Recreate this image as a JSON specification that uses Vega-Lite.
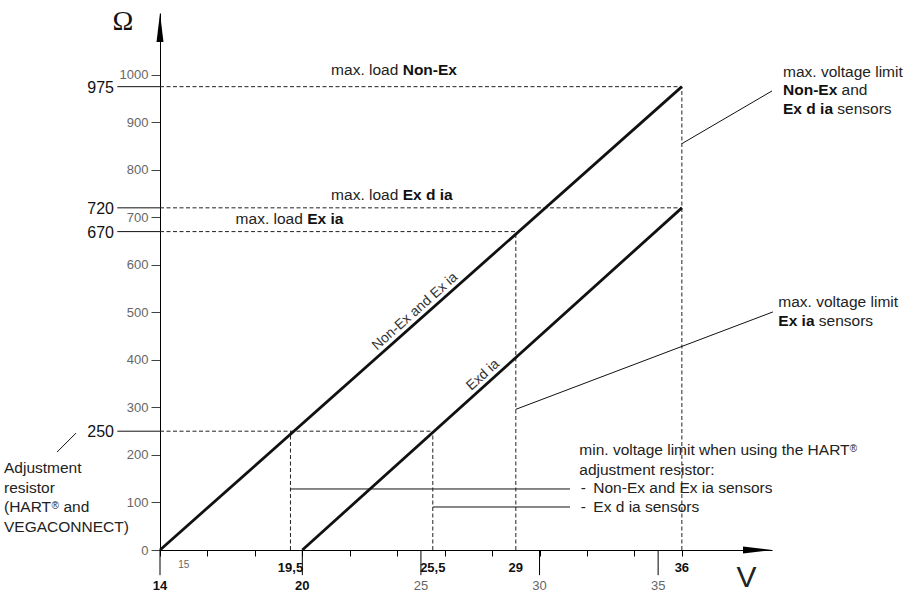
{
  "$schema": "https://vega.github.io/schema/vega-lite/v6.json",
  "width": 612,
  "height": 537,
  "autosize": {"type": "none"},
  "padding": {"left": 160, "top": 13, "right": 143, "bottom": 42},
  "background": "white",
  "config": {"view": {"stroke": null}, "font": "Liberation Sans", "axis": {"grid": false}},
  "datasets": {
    "lines": [
      {"s": "Non-Ex and Ex ia", "x": 14, "y": 0},
      {"s": "Non-Ex and Ex ia", "x": 36, "y": 975},
      {"s": "Exd ia", "x": 20, "y": 0},
      {"s": "Exd ia", "x": 36, "y": 720}
    ],
    "dashed": [
      {"x": 14, "x2": 36, "y": 975, "y2": 975},
      {"x": 14, "x2": 36, "y": 720, "y2": 720},
      {"x": 14, "x2": 29, "y": 670, "y2": 670},
      {"x": 14, "x2": 25.5, "y": 250, "y2": 250},
      {"x": 19.5, "x2": 19.5, "y": 0, "y2": 250},
      {"x": 25.5, "x2": 25.5, "y": 0, "y2": 250},
      {"x": 29, "x2": 29, "y": 0, "y2": 670},
      {"x": 36, "x2": 36, "y": 0, "y2": 975}
    ],
    "marks": [{"v": 975}, {"v": 720}, {"v": 670}, {"v": 250}],
    "leaders": [
      {"x": 36, "y": 855, "x2": 39.8, "y2": 966},
      {"x": 29, "y": 296, "x2": 39.84, "y2": 501},
      {"x": 19.5, "y": 128.4, "x2": 31.285, "y2": 128.4},
      {"x": 25.5, "y": 90.5, "x2": 31.285, "y2": 90.5},
      {"x": 9.658, "y": 206, "x2": 10.459, "y2": 246}
    ],
    "longticks": [{"x": 14}, {"x": 20}, {"x": 25}, {"x": 30}, {"x": 35}],
    "xlabNearBold": [{"x": 19.5, "t": "19,5"}, {"x": 25.5, "t": "25,5"}, {"x": 29, "t": "29"}, {"x": 36, "t": "36"}],
    "xlabFarBold": [{"x": 14, "t": "14"}, {"x": 20, "t": "20"}],
    "xlabFarGray": [{"x": 25, "t": "25"}, {"x": 30, "t": "30"}, {"x": 35, "t": "35"}],
    "xlabSmall": [{"x": 15, "t": "15"}],
    "textLeft": [
      {"x": 40.265, "y": 994.7, "t": "max. voltage limit"},
      {"x": 42.735, "y": 956.4, "t": "and"},
      {"x": 42.554, "y": 917.9, "t": "sensors"},
      {"x": 40.067, "y": 511, "t": "max. voltage limit"},
      {"x": 41.774, "y": 471.6, "t": "sensors"},
      {"x": 31.677, "y": 200, "t": "min. voltage limit when using the HART"},
      {"x": 31.677, "y": 157.9, "t": "adjustment resistor:"},
      {"x": 31.736, "y": 119.4, "t": "-"},
      {"x": 32.267, "y": 119.4, "t": "Non-Ex and Ex ia sensors"},
      {"x": 31.736, "y": 80.6, "t": "-"},
      {"x": 32.267, "y": 80.6, "t": "Ex d ia sensors"},
      {"x": 7.423, "y": 162.7, "t": "Adjustment"},
      {"x": 7.423, "y": 120, "t": "resistor"},
      {"x": 7.423, "y": 79, "t": "(HART"},
      {"x": 9.932, "y": 79, "t": "and"},
      {"x": 7.423, "y": 37.9, "t": "VEGACONNECT)"}
    ],
    "textBold": [
      {"x": 40.265, "y": 956.4, "t": "Non-Ex"},
      {"x": 40.265, "y": 917.9, "t": "Ex d ia"},
      {"x": 40.067, "y": 471.6, "t": "Ex ia"},
      {"x": 24.232, "y": 1000, "t": "Non-Ex"},
      {"x": 24.232, "y": 737, "t": "Ex d ia"},
      {"x": 20.206, "y": 686, "t": "Ex ia"}
    ],
    "textRight": [
      {"x": 24.046, "y": 1000, "t": "max. load"},
      {"x": 24.046, "y": 737, "t": "max. load"},
      {"x": 20.02, "y": 686, "t": "max. load"}
    ],
    "sup": [
      {"x": 43.081, "y": 206.3, "t": "®"},
      {"x": 9.426, "y": 85.3, "t": "®"}
    ],
    "rot1": [{"x": 25.003, "y": 487.6, "t": "Non-Ex and Ex ia"}],
    "rot2": [{"x": 27.87, "y": 354, "t": "Exd ia"}],
    "omega": [{"x": 12.44, "y": 1094.7, "t": "Ω"}],
    "vunit": [{"x": 38.72, "y": -78, "t": "V"}],
    "yarrow": [{"x": 14, "y": 1130}],
    "xarrow": [{"x": 39.8, "y": 0}]
  },
  "layer": [
    {
      "data": {"name": "dashed"},
      "mark": {"type": "rule", "strokeDash": [4, 2.5], "strokeWidth": 1, "color": "#222"},
      "encoding": {
        "x": {
          "field": "x", "type": "quantitative", "title": null,
          "scale": {"domain": [14, 39.8], "nice": false, "zero": false},
          "axis": {
            "title": null,
            "values": [14, 15, 16, 17, 18, 19, 20, 21, 22, 23, 24, 25, 26, 27, 28, 29, 30, 31, 32, 33, 34, 35, 36],
            "labels": false,
            "tickSize": 6,
            "tickColor": "#000",
            "domainColor": "#000"
          }
        },
        "x2": {"field": "x2"},
        "y": {
          "field": "y", "type": "quantitative", "title": null,
          "scale": {"domain": [0, 1130], "nice": false, "zero": false},
          "axis": {
            "title": null,
            "values": [0, 100, 200, 300, 400, 500, 600, 700, 800, 900, 1000],
            "format": "d",
            "tickSize": 9,
            "tickColor": "#444",
            "domainColor": "#000",
            "labelColor": "#666",
            "labelFontSize": 13,
            "labelPadding": 3,
            "labelFlush": false,
            "labelOverlap": false
          }
        },
        "y2": {"field": "y2"}
      }
    },
    {
      "data": {"name": "marks"},
      "mark": {"type": "rule", "strokeWidth": 1, "color": "#111"},
      "encoding": {
        "x": {"datum": 12.2, "type": "quantitative", "title": null},
        "x2": {"datum": 14},
        "y": {"field": "v", "type": "quantitative", "title": null}
      }
    },
    {
      "data": {"name": "marks"},
      "mark": {"type": "text", "align": "right", "baseline": "middle", "dx": -46, "dy": 1, "fontSize": 16, "color": "#111"},
      "encoding": {
        "x": {"datum": 14, "type": "quantitative", "title": null},
        "y": {"field": "v", "type": "quantitative", "title": null},
        "text": {"field": "v", "type": "quantitative"}
      }
    },
    {
      "data": {"name": "longticks"},
      "mark": {"type": "rule", "strokeWidth": 1, "color": "#000"},
      "encoding": {
        "x": {"field": "x", "type": "quantitative", "title": null},
        "y": {"datum": 0, "type": "quantitative", "title": null},
        "y2": {"datum": -53}
      }
    },
    {
      "data": {"name": "xlabNearBold"},
      "mark": {"type": "text", "align": "center", "baseline": "alphabetic", "dy": 21.5, "fontSize": 13, "fontWeight": "bold", "color": "#111"},
      "encoding": {
        "x": {"field": "x", "type": "quantitative", "title": null},
        "y": {"datum": 0, "type": "quantitative", "title": null},
        "text": {"field": "t"}
      }
    },
    {
      "data": {"name": "xlabFarBold"},
      "mark": {"type": "text", "align": "center", "baseline": "alphabetic", "dy": 39.5, "fontSize": 13, "fontWeight": "bold", "color": "#111"},
      "encoding": {
        "x": {"field": "x", "type": "quantitative", "title": null},
        "y": {"datum": 0, "type": "quantitative", "title": null},
        "text": {"field": "t"}
      }
    },
    {
      "data": {"name": "xlabFarGray"},
      "mark": {"type": "text", "align": "center", "baseline": "alphabetic", "dy": 39.5, "fontSize": 13, "color": "#666"},
      "encoding": {
        "x": {"field": "x", "type": "quantitative", "title": null},
        "y": {"datum": 0, "type": "quantitative", "title": null},
        "text": {"field": "t"}
      }
    },
    {
      "data": {"name": "xlabSmall"},
      "mark": {"type": "text", "align": "center", "baseline": "alphabetic", "dy": 18, "fontSize": 10, "color": "#666"},
      "encoding": {
        "x": {"field": "x", "type": "quantitative", "title": null},
        "y": {"datum": 0, "type": "quantitative", "title": null},
        "text": {"field": "t"}
      }
    },
    {
      "data": {"name": "leaders"},
      "mark": {"type": "rule", "strokeWidth": 1, "color": "#111"},
      "encoding": {
        "x": {"field": "x", "type": "quantitative", "title": null},
        "x2": {"field": "x2"},
        "y": {"field": "y", "type": "quantitative", "title": null},
        "y2": {"field": "y2"}
      }
    },
    {
      "data": {"name": "lines"},
      "mark": {"type": "line", "strokeWidth": 2.8, "color": "#111"},
      "encoding": {
        "x": {"field": "x", "type": "quantitative", "title": null},
        "y": {"field": "y", "type": "quantitative", "title": null},
        "detail": {"field": "s"}
      }
    },
    {
      "data": {"name": "yarrow"},
      "mark": {"type": "point", "shape": "M0,0L0.24,2L-0.24,2Z", "size": 841, "filled": true, "color": "#000", "opacity": 1, "strokeWidth": 0},
      "encoding": {
        "x": {"field": "x", "type": "quantitative", "title": null},
        "y": {"field": "y", "type": "quantitative", "title": null}
      }
    },
    {
      "data": {"name": "xarrow"},
      "mark": {"type": "point", "shape": "M0,0L-2,-0.24L-2,0.24Z", "size": 841, "filled": true, "color": "#000", "opacity": 1, "strokeWidth": 0},
      "encoding": {
        "x": {"field": "x", "type": "quantitative", "title": null},
        "y": {"field": "y", "type": "quantitative", "title": null}
      }
    },
    {
      "data": {"name": "textLeft"},
      "mark": {"type": "text", "align": "left", "baseline": "alphabetic", "fontSize": 15.5, "color": "#222"},
      "encoding": {
        "x": {"field": "x", "type": "quantitative", "title": null},
        "y": {"field": "y", "type": "quantitative", "title": null},
        "text": {"field": "t"}
      }
    },
    {
      "data": {"name": "textBold"},
      "mark": {"type": "text", "align": "left", "baseline": "alphabetic", "fontSize": 15.5, "fontWeight": "bold", "color": "#111"},
      "encoding": {
        "x": {"field": "x", "type": "quantitative", "title": null},
        "y": {"field": "y", "type": "quantitative", "title": null},
        "text": {"field": "t"}
      }
    },
    {
      "data": {"name": "textRight"},
      "mark": {"type": "text", "align": "right", "baseline": "alphabetic", "fontSize": 15.5, "color": "#222"},
      "encoding": {
        "x": {"field": "x", "type": "quantitative", "title": null},
        "y": {"field": "y", "type": "quantitative", "title": null},
        "text": {"field": "t"}
      }
    },
    {
      "data": {"name": "sup"},
      "mark": {"type": "text", "align": "left", "baseline": "alphabetic", "fontSize": 10, "color": "#222"},
      "encoding": {
        "x": {"field": "x", "type": "quantitative", "title": null},
        "y": {"field": "y", "type": "quantitative", "title": null},
        "text": {"field": "t"}
      }
    },
    {
      "data": {"name": "rot1"},
      "mark": {"type": "text", "align": "center", "baseline": "alphabetic", "angle": -41.6, "dy": -5, "fontSize": 14, "color": "#333"},
      "encoding": {
        "x": {"field": "x", "type": "quantitative", "title": null},
        "y": {"field": "y", "type": "quantitative", "title": null},
        "text": {"field": "t"}
      }
    },
    {
      "data": {"name": "rot2"},
      "mark": {"type": "text", "align": "center", "baseline": "alphabetic", "angle": -42, "dy": -5, "fontSize": 14, "color": "#333"},
      "encoding": {
        "x": {"field": "x", "type": "quantitative", "title": null},
        "y": {"field": "y", "type": "quantitative", "title": null},
        "text": {"field": "t"}
      }
    },
    {
      "data": {"name": "omega"},
      "mark": {"type": "text", "align": "center", "baseline": "alphabetic", "font": "Liberation Serif", "fontSize": 28, "color": "#111"},
      "encoding": {
        "x": {"field": "x", "type": "quantitative", "title": null},
        "y": {"field": "y", "type": "quantitative", "title": null},
        "text": {"field": "t"}
      }
    },
    {
      "data": {"name": "vunit"},
      "mark": {"type": "text", "align": "center", "baseline": "alphabetic", "fontSize": 30, "color": "#222"},
      "encoding": {
        "x": {"field": "x", "type": "quantitative", "title": null},
        "y": {"field": "y", "type": "quantitative", "title": null},
        "text": {"field": "t"}
      }
    }
  ]
}
